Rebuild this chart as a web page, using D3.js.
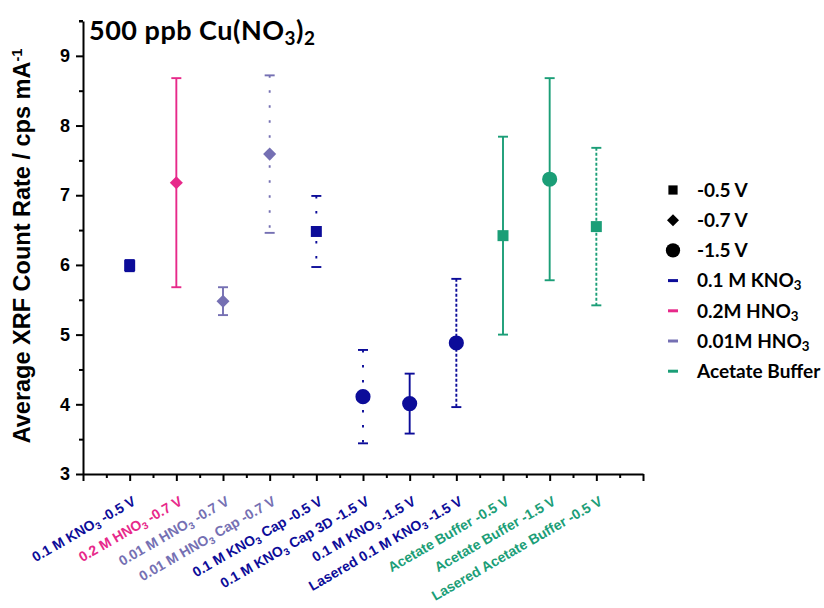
<!DOCTYPE html>
<html>
<head>
<meta charset="utf-8">
<script src="https://cdn.jsdelivr.net/npm/d3@7"></script>
<style>
  html, body { margin: 0; padding: 0; background: #fff; }
  svg { display: block; }
</style>
</head>
<body>
<svg id="chart" width="824" height="608"></svg>
<script>
// Sample labels ("_{..}" marks a subscript)
const samples = [
  "0.1 M KNO_{3} -0.5 V",
  "0.2 M HNO_{3} -0.7 V",
  "0.01 M HNO_{3} -0.7 V",
  "0.01 M HNO_{3} Cap -0.7 V",
  "0.1 M KNO_{3} Cap -0.5 V",
  "0.1 M KNO_{3} Cap 3D -1.5 V",
  "0.1 M KNO_{3} -1.5 V",
  "Lasered 0.1 M KNO_{3} -1.5 V",
  "Acetate Buffer -0.5 V",
  "Acetate Buffer -1.5 V",
  "Lasered Acetate Buffer -0.5 V"
];
// Mean count rate and its error (cps mA^-1)
const means  = [5.99, 7.18, 5.48, 7.59, 6.48, 4.11, 4.01, 4.88, 6.42, 7.23, 6.55];
const errors = [0.08, 1.50, 0.20, 1.13, 0.51, 0.67, 0.43, 0.92, 1.42, 1.45, 1.13];
// Electrolyte and deposition potential for each sample
const electrolytes = ["KNO3", "HNO3_02", "HNO3_001", "HNO3_001", "KNO3", "KNO3", "KNO3", "KNO3", "Acetate", "Acetate", "Acetate"];
const potentials   = ["-0.5", "-0.7", "-0.7", "-0.7", "-0.5", "-1.5", "-1.5", "-1.5", "-0.5", "-1.5", "-0.5"];
// Error bar line style
const barStyles = ["solid", "solid", "solid", "dot", "dot", "dot", "solid", "dash", "solid", "solid", "dash"];

const yTicks = [3, 4, 5, 6, 7, 8, 9];

const electrolyteNames = ["KNO3", "HNO3_02", "HNO3_001", "Acetate"];
const electrolyteLabels = ["0.1 M KNO_{3}", "0.2M HNO_{3}", "0.01M HNO_{3}", "Acetate Buffer"];
const electrolyteColors = ["#0c0c99", "#e7298a", "#7570b3", "#1b9e77"];
const potentialNames = ["-0.5", "-0.7", "-1.5"];
const potentialLabels = ["-0.5 V", "-0.7 V", "-1.5 V"];

// Square, square turned 45 degrees, circle
const diamond = {
  draw(ctx, size) {
    const r = Math.sqrt(size / 2);
    ctx.moveTo(0, -r); ctx.lineTo(r, 0); ctx.lineTo(0, r); ctx.lineTo(-r, 0); ctx.closePath();
  }
};
const color = d3.scaleOrdinal().domain(electrolyteNames).range(electrolyteColors);
const shape = d3.scaleOrdinal().domain(potentialNames).range([d3.symbolSquare, diamond, d3.symbolCircle]);
const shapeSize = d3.scaleOrdinal().domain(potentialNames).range([121, 85, 180]);
const dashes = { solid: null, dot: "2.5,12.5", dash: "3,2" };

const svg = d3.select("#chart");
const x = d3.scaleLinear().domain([0, samples.length + 1]).range([83, 643]);
const y = d3.scaleLinear().domain([3, 9.5]).range([474, 21]);

// Write text with "_{..}" subscripts as tspans
function richText(sel, str, subShift) {
  const parts = str.split(/(_\{[^}]*\})/).filter(p => p.length);
  parts.forEach(p => {
    if (p.startsWith("_{")) {
      sel.append("tspan").attr("baseline-shift", subShift || "-25%")
        .attr("font-size", "70%").text(p.slice(2, -1));
    } else {
      sel.append("tspan").text(p);
    }
  });
}

// Axes
const yAxis = svg.append("g").attr("transform", `translate(${x(0)},0)`)
  .call(d3.axisLeft(y).tickValues(yTicks).tickFormat(d3.format("d")).tickSize(7).tickSizeOuter(0).tickPadding(6));
svg.append("g").attr("transform", `translate(${x(0)},0)`)
  .call(d3.axisLeft(y).tickValues(d3.range(3.5, 9.6, 1)).tickSize(4).tickFormat("").tickSizeOuter(0))
  .select(".domain").remove();
yAxis.selectAll("text")
  .attr("font-family", "'Liberation Sans', Arial, sans-serif")
  .attr("font-weight", "bold").attr("font-size", 18).attr("fill", "#000");

svg.append("g").attr("transform", `translate(0,${y(3)})`)
  .call(d3.axisBottom(x).tickValues(d3.range(0, samples.length + 2)).tickSize(7).tickSizeOuter(0).tickFormat(""));
svg.append("g").attr("transform", `translate(0,${y(3)})`)
  .call(d3.axisBottom(x).tickValues(d3.range(0.5, samples.length + 1, 1)).tickSize(4).tickFormat("").tickSizeOuter(0))
  .select(".domain").remove();

svg.selectAll(".domain").attr("stroke", "#000").attr("stroke-width", 2);
svg.selectAll(".tick line").attr("stroke", "#000").attr("stroke-width", 2);

// Top end mark of the y axis
svg.append("line").attr("x1", x(0) - 4).attr("x2", x(0)).attr("y1", y(9.5)).attr("y2", y(9.5))
  .attr("stroke", "#000").attr("stroke-width", 2);

// Category labels
samples.forEach((s, i) => {
  const t = svg.append("text")
    .attr("transform", `translate(${x(i + 1) + 7},${504}) rotate(-30)`)
    .attr("text-anchor", "end")
    .attr("font-family", "'Liberation Sans', Arial, sans-serif")
    .attr("font-weight", "bold").attr("font-size", 14)
    .attr("fill", color(electrolytes[i]));
  richText(t, s);
});

// Error bars
const rows = samples.map((s, i) => ({
  i, mean: means[i], err: errors[i], el: electrolytes[i], pot: potentials[i], style: barStyles[i]
}));

const bars = svg.append("g").selectAll("g").data(rows).join("g")
  .attr("stroke", d => color(d.el)).attr("stroke-width", 1.9);
bars.append("line")
  .attr("x1", d => x(d.i + 1)).attr("x2", d => x(d.i + 1))
  .attr("y1", d => y(d.mean + d.err)).attr("y2", d => y(d.mean - d.err))
  .attr("stroke-dasharray", d => dashes[d.style]);
bars.selectAll(".cap").data(d => [d.mean + d.err, d.mean - d.err].map(v => ({ v, i: d.i }))).join("line")
  .attr("class", "cap")
  .attr("x1", d => x(d.i + 1) - 5).attr("x2", d => x(d.i + 1) + 5)
  .attr("y1", d => y(d.v)).attr("y2", d => y(d.v));

// Markers
svg.append("g").selectAll("path").data(rows).join("path")
  .attr("transform", d => `translate(${x(d.i + 1)},${y(d.mean)})`)
  .attr("d", d => d3.symbol().type(shape(d.pot)).size(shapeSize(d.pot))())
  .attr("fill", d => color(d.el));

// Title
const title = svg.append("text").attr("x", 89).attr("y", 40)
  .attr("font-family", "Lato, 'Open Sans', sans-serif").attr("font-weight", "bold")
  .attr("font-size", 27).attr("letter-spacing", 0.5).attr("fill", "#000");
richText(title, "500 ppb Cu(NO_{3})_{2}");

// Y axis title
const yTitle = svg.append("text")
  .attr("transform", `translate(30,246) rotate(-90)`)
  .attr("text-anchor", "middle")
  .attr("font-family", "'Liberation Sans', Arial, sans-serif")
  .attr("font-weight", "bold").attr("font-size", 23.5).attr("fill", "#000");
richText(yTitle, "Average XRF Count Rate / cps mA");
yTitle.append("tspan").attr("baseline-shift", "super").attr("font-size", "62%").text("-1");

// Legend
const legend = svg.append("g").attr("font-family", "Lato, 'Open Sans', sans-serif")
  .attr("font-weight", "bold").attr("font-size", 19);
const legendItems = potentialNames.map((p, k) => ({ kind: "shape", key: p, label: potentialLabels[k] }))
  .concat(electrolyteNames.map((e, k) => ({ kind: "line", key: e, label: electrolyteLabels[k] })));
const lg = legend.selectAll("g").data(legendItems).join("g")
  .attr("transform", (d, k) => `translate(673,${190 + k * 30.2})`);
lg.filter(d => d.kind === "shape").append("path")
  .attr("d", d => d3.symbol().type(shape(d.key)).size(d.key === "-1.5" ? 160 : (d.key === "-0.7" ? 72 : 85))())
  .attr("fill", "#000");
lg.filter(d => d.kind === "line").append("line")
  .attr("x1", -5).attr("x2", 5).attr("stroke", d => color(d.key)).attr("stroke-width", 3);
lg.append("text").attr("x", 24).attr("dy", "0.36em").attr("fill", "#000")
  .each(function (d) { richText(d3.select(this), d.label); });
</script>
</body>
</html>
